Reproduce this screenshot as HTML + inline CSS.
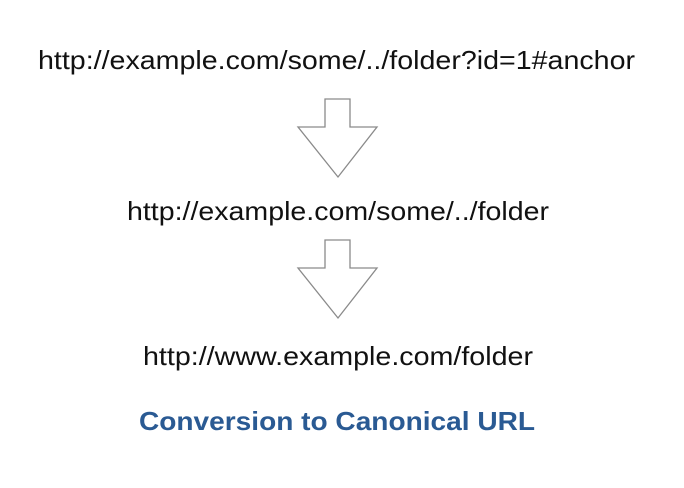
<!DOCTYPE html>
<html><head><meta charset="utf-8"><style>
html,body{margin:0;padding:0;background:#fff;}
svg{display:block;}
</style></head><body>
<svg width="684" height="488" viewBox="0 0 684 488" xmlns="http://www.w3.org/2000/svg">
<g font-family="Liberation Sans, Arial, sans-serif" font-size="26" fill="#111">
<text x="38" y="69" textLength="597" lengthAdjust="spacingAndGlyphs">http://example.com/some/../folder?id=1#anchor</text>
<text x="127" y="220" textLength="422" lengthAdjust="spacingAndGlyphs">http://example.com/some/../folder</text>
<text x="143" y="365" textLength="390" lengthAdjust="spacingAndGlyphs">http://www.example.com/folder</text>
</g>
<text x="139" y="430" font-family="Liberation Sans, Arial, sans-serif" font-size="26" font-weight="bold" fill="#2a5a93" textLength="396" lengthAdjust="spacingAndGlyphs">Conversion to Canonical URL</text>
<g fill="none" stroke="#8a8a8a" stroke-width="1.3">
<polygon points="325,99 350,99 350,127 377,127 338,177 298,127 325,127"/>
<polygon points="325,240 350,240 350,268 377,268 338,318 298,268 325,268"/>
</g>
</svg>
</body></html>
